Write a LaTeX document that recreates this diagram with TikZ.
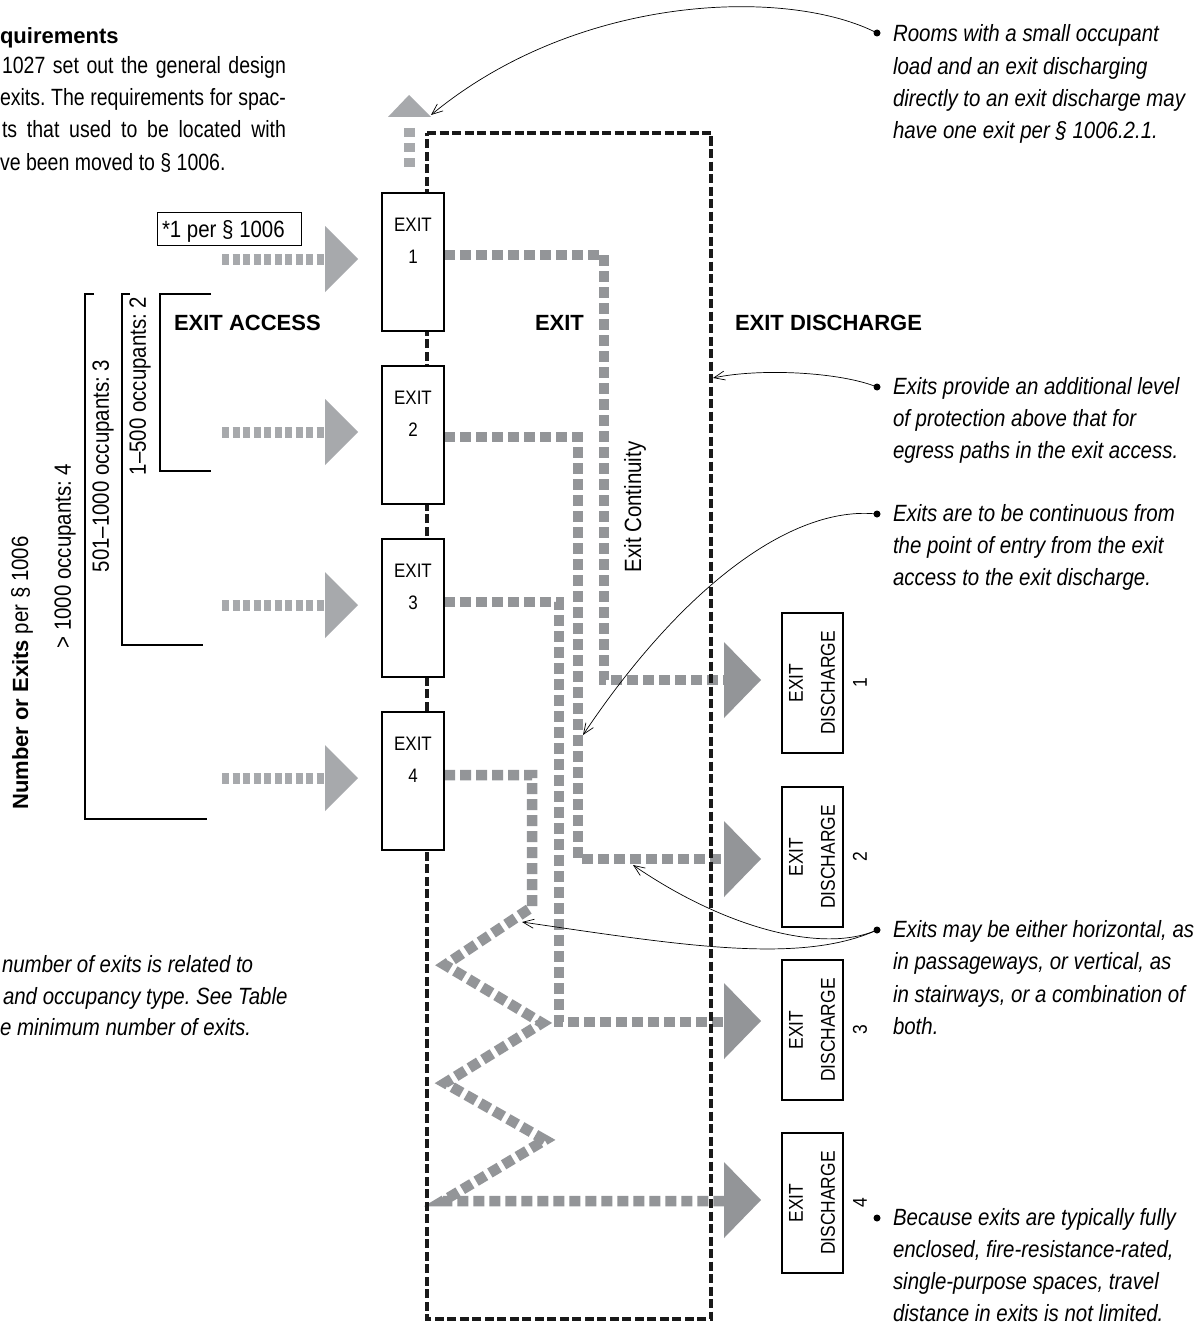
\documentclass[tikz,border=0pt]{standalone}
\usepackage{fontspec}
\setmainfont{Liberation Sans}[FakeStretch=0.87]
\newfontfamily\boldfam{Liberation Sans}
\newfontfamily\parafam{Liberation Sans}[FakeStretch=0.83]
\usetikzlibrary{arrows.meta}
\definecolor{lgray}{HTML}{A7A9AC}
\definecolor{mgray}{HTML}{939598}
\frenchspacing
\newcommand\tsz{\fontsize{23.5}{32}\selectfont}
\newcommand\psz{\parafam\fontsize{23.5}{32}\selectfont}
\newcommand\bsz{\boldfam\bfseries\fontsize{22}{32}\selectfont}
\newcommand\ssz{\fontsize{19.5}{32}\selectfont}
\newcommand\dsz{\fontsize{20}{32}\selectfont}
\begin{document}
\begin{tikzpicture}[x=1pt,y=-1pt,
  every node/.style={inner sep=0pt, outer sep=0pt},
  txt/.style={font=\psz, anchor=base west},
  note/.style={font=\tsz\itshape, anchor=base west},
  head/.style={font=\bsz, anchor=base west},
  exitbox/.style={draw, line width=1.2pt, fill=white, minimum width=62pt, minimum height=138pt},
  dbox/.style={draw, line width=1.2pt, fill=white, minimum width=61pt, minimum height=140pt},
  accessline/.style={draw=lgray, line width=11pt, dash pattern=on 7pt off 3.5pt},
  pathline/.style={draw=mgray, line width=10.5pt, dash pattern=on 11pt off 5pt, line join=miter},
  wall/.style={draw=black!90, line width=4.5pt, dash pattern=on 9pt off 3.5pt},
  bracket/.style={line width=1.2pt},
  callout/.style={line width=0.7pt, -{Straight Barb[length=11pt,width=9pt,line width=0.7pt]}},
  bullet/.style={circle, fill=black, minimum size=7pt},
]
\fill[white] (0,0) rectangle (1202,1327);
\useasboundingbox (0,0) rectangle (1202,1327);

% ---- top-left text
\node[head] (h0) at (0,44) {quirements};
\node[txt] (h1) at (2,74) {\makebox[284pt][s]{1027 set out the general design}};
\node[txt] (h2) at (0,106) {\makebox[286pt][s]{exits. The requirements for spac-}};
\node[txt] (h3) at (2,138) {\makebox[284pt][s]{ts that used to be located with}};
\node[txt] (h4) at (0,170) {ve been moved to \S\ 1006.};

% ---- bottom-left text
\node[note] (l1) at (2,972) {number of exits is related to};
\node[note] (l2) at (3,1004) {and occupancy type. See Table};
\node[note] (l3) at (0,1035) {e minimum number of exits.};

% ---- gray exit paths
\coordinate (p1a) at (444,255); \coordinate (p1b) at (604,255); \coordinate (p1c) at (604,680); \coordinate (p1d) at (724,680);
\coordinate (p2a) at (444,437); \coordinate (p2b) at (578,437); \coordinate (p2c) at (578,859); \coordinate (p2d) at (724,859);
\coordinate (p3a) at (444,602); \coordinate (p3b) at (559,602); \coordinate (p3c) at (559,1022); \coordinate (p3d) at (724,1022);
\coordinate (p4a) at (444,775); \coordinate (p4b) at (532,775); \coordinate (p4c) at (532,907);
\coordinate (z1) at (445,965); \coordinate (z2) at (542,1023); \coordinate (z3) at (445,1083);
\coordinate (z4) at (545,1140); \coordinate (z5) at (443,1201); \coordinate (p4d) at (724,1201);
\draw[pathline] (p1a) -- (p1b) -- (p1c) -- (p1d);
\draw[pathline] (p2a) -- (p2b) -- (p2c) -- (p2d);
\draw[pathline] (p3a) -- (p3b) -- (p3c) -- (p3d);
\draw[pathline] (p4a) -- (p4b) -- (p4c) -- (z1) -- (z2) -- (z3) -- (z4) -- (z5) -- (p4d);

% discharge arrow heads
\foreach \y [count=\i] in {680,859,1021,1200}{
  \fill[mgray] (724,\y-38) -- (761,\y) -- (724,\y+38) -- cycle;
}

% ---- exit enclosure
\draw[wall] (427,133) -- (711,133) -- (711,1319) -- (427,1319) -- cycle;

% ---- up arrow
\draw[draw=lgray, line width=11pt, dash pattern=on 9pt off 6pt] (409,128) -- (409,172);
\fill[lgray] (388,117) -- (409,95) -- (431,117) -- cycle;

% ---- exit boxes
\foreach \t [count=\i] in {193,366,539,712}{
  \node[exitbox] (e\i) at (413,\t+69) {};
  \node[font=\ssz, align=center] (e\i t) at (413,\t+48) {EXIT\\\i};
}

% ---- exit access arrows
\foreach \y [count=\i] in {259,432,605,778}{
  \coordinate (s\i) at (222,\y); \coordinate (f\i) at (324,\y);
  \draw[accessline] (s\i) -- (f\i);
  \fill[lgray] (325,\y-33) -- (358,\y) -- (325,\y+33) -- cycle;
}

% ---- *1 per box
\node[draw, line width=1pt, minimum width=144pt, minimum height=33pt] (one) at (229,228.5) {};
\node[txt, font=\tsz] (onet) at (162,237) {*1 per \S~1006};

% ---- brackets
\draw[bracket] (211,294) -- (160,294) -- (160,471) -- (211,471);
\draw[bracket] (130,294) -- (122,294) -- (122,645) -- (203,645);
\draw[bracket] (94,294) -- (85,294) -- (85,819) -- (207,819);
\node[rotate=90, font=\tsz] (o1) at (140,386) {1--500 occupants: 2};
\node[rotate=90, font=\tsz] (o2) at (103,466) {501--1000 occupants: 3};
\node[rotate=90, font=\tsz] (o3) at (65,556) {> 1000 occupants: 4};
\node[rotate=90, font=\tsz] (o4) at (22,673) {{\bsz Number or Exits} per \S\ 1006};

% ---- headings
\node[head] (ha) at (174,330) {EXIT ACCESS};
\node[head] (hb) at (535,330) {EXIT};
\node[head] (hc) at (735,330) {EXIT DISCHARGE};
\node[rotate=90, font=\tsz] (cont) at (635,507) {Exit Continuity};

% ---- discharge boxes
\foreach \t [count=\i] in {613,787,960,1133}{
  \node[dbox] (d\i) at (812.5,\t+70) {};
  \node[rotate=90, font=\dsz, align=center] (d\i t) at (828,\t+70) {EXIT\\DISCHARGE\\\i};
}

% ---- notes
\node[bullet] (b1) at (877,33) {};
\node[bullet] (b2) at (877,387) {};
\node[bullet] (b3) at (877,514) {};
\node[bullet] (b4) at (877,930) {};
\node[bullet] (b5) at (877,1218) {};

\foreach \t [count=\i] in {Rooms with a small occupant, load and an exit discharging, directly to an exit discharge may, {have one exit per \S\ 1006.2.1.}}
  \node[note] (n1-\i) at (893,42+32.3*\i-32.3) {\t};
\foreach \t [count=\i] in {Exits provide an additional level, of protection above that for, egress paths in the exit access.}
  \node[note] (n2-\i) at (893,394+32.3*\i-32.3) {\t};
\foreach \t [count=\i] in {Exits are to be continuous from, the point of entry from the exit, access to the exit discharge.}
  \node[note] (n3-\i) at (893,521+32.3*\i-32.3) {\t};
\foreach \t [count=\i] in {{Exits may be either horizontal, as}, {in passageways, or vertical, as}, {in stairways, or a combination of}, both.}
  \node[note] (n4-\i) at (893,937+32.5*\i-32.5) {\t};
\foreach \t [count=\i] in {Because exits are typically fully, {enclosed, fire-resistance-rated,}, {single-purpose spaces, travel}, distance in exits is not limited.}
  \node[note] (n5-\i) at (893,1225+32.3*\i-32.3) {\t};

% ---- callouts
\coordinate (a1) at (431,115);
\coordinate (a2) at (713,378);
\coordinate (a3) at (583,735);
\coordinate (a4) at (633,865);
\coordinate (a5) at (522,922);
\draw[callout] (b1.center) .. controls (790,-12) and (580,-8) .. (a1);
\draw[callout] (b2.center) .. controls (840,372) and (760,368) .. (a2);
\draw[callout] (b3.center) .. controls (790,505) and (680,590) .. (a3);
\draw[callout] (b4.center) .. controls (820,955) and (720,925) .. (a4);
\draw[callout] (b4.center) .. controls (800,965) and (680,945) .. (a5);
\end{tikzpicture}
\end{document}
